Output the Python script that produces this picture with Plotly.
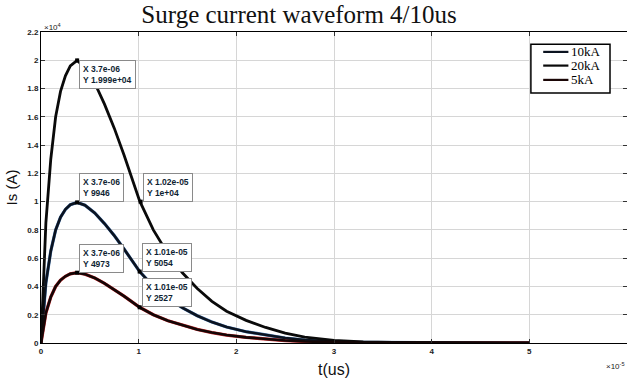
import numpy as np
import plotly.graph_objects as go

# ---- data ----
time_us = [0, 0.25, 0.5, 1.0, 1.5, 2.0, 2.5, 3.0, 3.7, 4.5, 5.5, 6.5, 7.5, 8.5, 10.1,
           11.5, 13, 14.5, 16, 17.5, 19, 21, 23, 25, 27, 30, 33, 36, 40, 45, 50]
i_20kA = [0, 4500, 8500, 13000, 16000, 17800, 18900, 19600, 19990, 19500, 18400, 16900,
          15200, 13300, 10050, 8000, 6300, 4950, 3850, 2950, 2250, 1600, 1100, 700, 420,
          180, 80, 40, 15, 5, 2]
i_10kA = [0, 2250, 4250, 6500, 8000, 8900, 9450, 9780, 9946, 9750, 9200, 8450, 7600,
          6650, 5054, 4000, 3150, 2480, 1930, 1480, 1130, 800, 550, 350, 210, 90, 40,
          20, 8, 3, 1]
i_5kA = [0, 1125, 2125, 3250, 4000, 4450, 4720, 4890, 4973, 4870, 4600, 4220, 3800,
         3320, 2527, 2000, 1570, 1240, 960, 740, 560, 400, 275, 175, 105, 45, 20, 10,
         4, 2, 1]
series_names = ["10kA", "20kA", "5kA"]

tip_t = [3.7e-6, 3.7e-6, 3.7e-6, 1.02e-5, 1.01e-5, 1.01e-5]
tip_v = [19990, 9946, 4973, 10000, 5054, 2527]
tip_text = ["X 3.7e-06<br>Y 1.999e+04", "X 3.7e-06<br>Y 9946", "X 3.7e-06<br>Y 4973",
            "X 1.02e-05<br>Y 1e+04", "X 1.01e-05<br>Y 5054", "X 1.01e-05<br>Y 2527"]
tip_anchor = ["top", "bottom", "bottom", "bottom", "bottom", "bottom"]

x_ticks = [0, 1e-5, 2e-5, 3e-5, 4e-5, 5e-5, 6e-5]
x_tick_text = ["0", "1", "2", "3", "4", "5", "6"]
y_ticks = [0, 2000, 4000, 6000, 8000, 10000, 12000, 14000, 16000, 18000, 20000, 22000]
y_tick_text = ["0", "0.2", "0.4", "0.6", "0.8", "1", "1.2", "1.4", "1.6", "1.8", "2", "2.2"]

t = np.array(time_us) * 1e-6

fig = go.Figure()
# faint coloured fringes underneath (as in the reference image)
fig.add_trace(go.Scatter(x=t, y=i_10kA, mode="lines", line=dict(color="#4a78b0", width=3.2),
                         showlegend=False, hoverinfo="skip"))
fig.add_trace(go.Scatter(x=t, y=i_5kA, mode="lines", line=dict(color="#c0262a", width=3.3),
                         showlegend=False, hoverinfo="skip"))
fig.add_trace(go.Scatter(x=t, y=i_10kA, mode="lines", name=series_names[0],
                         line=dict(color="#0b1320", width=2.6), showlegend=False))
fig.add_trace(go.Scatter(x=t, y=i_20kA, mode="lines", name=series_names[1],
                         line=dict(color="#0a0a0a", width=2.8), showlegend=False))
fig.add_trace(go.Scatter(x=t, y=i_5kA, mode="lines", name=series_names[2],
                         line=dict(color="#140606", width=2.6), showlegend=False))
fig.add_trace(go.Scatter(x=tip_t, y=tip_v, mode="markers", showlegend=False,
                         marker=dict(color="black", size=4, symbol="square")))

for tx, tv, txt, anc in zip(tip_t, tip_v, tip_text, tip_anchor):
    fig.add_annotation(x=tx, y=tv, xref="x", yref="y", text=txt, showarrow=False,
                       xanchor="left", yanchor=anc, align="left", xshift=2,
                       font=dict(family="Liberation Sans", size=8.5, color="#0f1f33",
                                 weight="bold"),
                       bgcolor="white", bordercolor="#8a8a8a", borderwidth=1, borderpad=3)

# manual legend (MATLAB style)
fig.add_shape(type="rect", xref="paper", yref="paper", x0=0.836, x1=0.971, y0=0.804, y1=0.961,
              line=dict(color="black", width=1.5), fillcolor="white", layer="above")
leg_y = [0.936, 0.892, 0.846]
leg_col = ["#0b1320", "#0a0a0a", "#1a0606"]
for name, yy, cc in zip(series_names, leg_y, leg_col):
    fig.add_shape(type="line", xref="paper", yref="paper", x0=0.857, x1=0.900, y0=yy, y1=yy,
                  line=dict(color=cc, width=2.2), layer="above")
    fig.add_annotation(x=0.900, y=yy, xref="paper", yref="paper", text=name, showarrow=False,
                       xanchor="left", yanchor="middle", xshift=1,
                       font=dict(family="Liberation Serif", size=13, color="black"))

fig.add_annotation(x=0, y=1, xref="paper", yref="paper", text="×10<sup>4</sup>",
                   showarrow=False, xanchor="left", yanchor="bottom", xshift=1, yshift=-2,
                   font=dict(family="Liberation Sans", size=8, color="#222"))
fig.add_annotation(x=1, y=0, xref="paper", yref="paper", text="×10<sup>-5</sup>",
                   showarrow=False, xanchor="right", yanchor="top", yshift=-16,
                   font=dict(family="Liberation Sans", size=8, color="#222"))

fig.update_layout(
    width=627, height=380,
    margin=dict(l=41, r=0, t=32, b=37),
    paper_bgcolor="white", plot_bgcolor="white",
    title=dict(text="Surge current waveform 4/10us", x=0.477, xanchor="center",
               y=0.962, yanchor="middle",
               font=dict(family="Liberation Serif", size=25, color="#111")),
    showlegend=False,
)
fig.update_xaxes(range=[0, 6e-5], tickvals=x_ticks, ticktext=x_tick_text,
                 showgrid=True, gridcolor="#d6d6d6", gridwidth=1,
                 showline=True, linecolor="black", linewidth=1, mirror="ticks",
                 ticks="inside", ticklen=4, tickcolor="#333", zeroline=False,
                 tickfont=dict(family="Liberation Sans", size=8, color="#222", weight="bold"),
                 title=dict(text="t(us)", standoff=9,
                            font=dict(family="Liberation Sans", size=16, color="#111")))
fig.update_yaxes(range=[0, 22000], tickvals=y_ticks, ticktext=y_tick_text,
                 showgrid=True, gridcolor="#d6d6d6", gridwidth=1,
                 showline=True, linecolor="black", linewidth=1, mirror="ticks",
                 ticks="inside", ticklen=4, tickcolor="#333", zeroline=False,
                 tickfont=dict(family="Liberation Sans", size=8, color="#222", weight="bold"),
                 title=dict(text="Is (A)", standoff=6,
                            font=dict(family="Liberation Sans", size=15, color="#111")))

fig.write_html("out.html")
